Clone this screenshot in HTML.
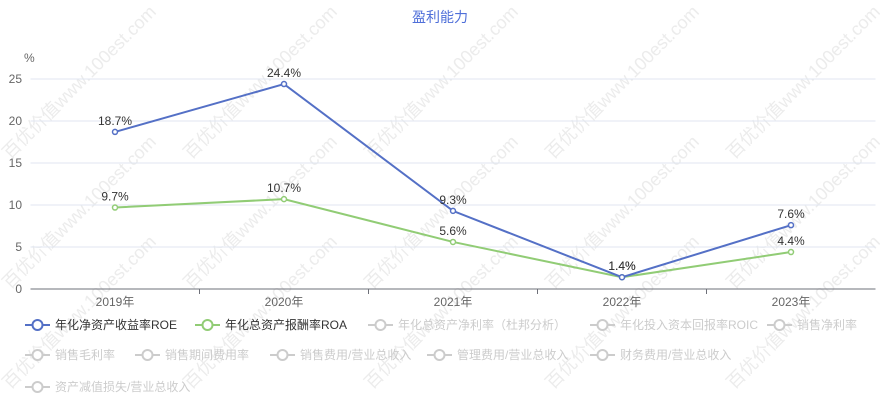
<!DOCTYPE html>
<html><head><meta charset="utf-8"><style>
html,body{margin:0;background:#fff;width:880px;height:400px;overflow:hidden;font-family:"Liberation Sans","Noto Sans CJK SC",sans-serif}
svg{display:block;overflow:hidden}
svg text{font-family:"Liberation Sans","Noto Sans CJK SC",sans-serif}
</style></head><body>
<svg id="c" width="880" height="400" xmlns="http://www.w3.org/2000/svg">
<g id="wm"></g>
<text x="440" y="22" text-anchor="middle" font-size="14" fill="#4f6fd9">盈利能力</text>
<text x="24" y="62" font-size="12" fill="#666">%</text>
<g id="grid"></g><g id="series"></g><g id="legend"></g>
</svg>
<script>
const categories=["2019年","2020年","2021年","2022年","2023年"];
const roe=[18.7,24.4,9.3,1.4,7.6];
const roa=[9.7,10.7,5.6,1.4,4.4];
const yTicks=[0,5,10,15,20,25];
const NS="http://www.w3.org/2000/svg";
const x0=30.5,x1=875.5,yBase=289,yTop=79,yMax=25;
const xs=i=>x0+(x1-x0)/categories.length*(i+0.5);
const ys=v=>yBase-(yBase-yTop)*v/yMax;
function mk(t,a,p){const e=document.createElementNS(NS,t);for(const k in a)e.setAttribute(k,a[k]);p.appendChild(e);return e;}
const svg=document.getElementById('c'),grid=document.getElementById('grid'),ser=document.getElementById('series'),leg=document.getElementById('legend'),wm=document.getElementById('wm');
[160,290,390].forEach(wy=>{for(let c=0;c<5;c++){const wx=c*181+10;const t=mk('text',{x:wx,y:wy,'font-size':'18',fill:'#ececec',transform:`rotate(-45 ${wx} ${wy})`},wm);t.textContent='百优价值www.100est.com';

}});
yTicks.forEach(v=>{const y=ys(v);
const l=mk('line',{x1:x0,x2:x1,y1:y,y2:y,stroke:v===0?'#6e7079':'#e0e6f1'},grid);


const t=mk('text',{x:22,y:y+4,'text-anchor':'end','font-size':'12',fill:'#666'},grid);t.textContent=v;

});
categories.forEach((c,i)=>{const x=x0+(x1-x0)/categories.length*i;
if(i>0){const tk=mk('line',{x1:x,x2:x,y1:yBase,y2:yBase+5,stroke:'#6e7079'},grid);

}
const t=mk('text',{x:xs(i),y:yBase+17,'text-anchor':'middle','font-size':'12',fill:'#666'},grid);t.textContent=c;

});
function draw(data,color,name){
const p=mk('polyline',{points:data.map((v,i)=>xs(i)+','+ys(v)).join(' '),fill:'none',stroke:color,'stroke-width':'2'},ser);


data.forEach((v,i)=>{const c=mk('circle',{cx:xs(i),cy:ys(v),r:2.5,fill:'#fff',stroke:color,'stroke-width':'1.5'},ser);


const t=mk('text',{x:xs(i),y:ys(v)-7,'text-anchor':'middle','font-size':'12',fill:'#333'},ser);t.textContent=v.toFixed(1)+'%';

});}
draw(roa,'#91cc75','roa');draw(roe,'#5470c6','roe');
const items=[["年化净资产收益率ROE",25,325,'#5470c6','#333'],["年化总资产报酬率ROA",195,325,'#91cc75','#333'],["年化总资产净利率（杜邦分析）",368,325,'#ccc','#ccc'],["年化投入资本回报率ROIC",590,325,'#ccc','#ccc'],["销售净利率",767,325,'#ccc','#ccc'],
["销售毛利率",25,355,'#ccc','#ccc'],["销售期间费用率",135,355,'#ccc','#ccc'],["销售费用/营业总收入",270,355,'#ccc','#ccc'],["管理费用/营业总收入",427,355,'#ccc','#ccc'],["财务费用/营业总收入",590,355,'#ccc','#ccc'],["资产减值损失/营业总收入",25,387,'#ccc','#ccc']];
items.forEach(([n,x,y,c,tc])=>{const g=mk('g',{},leg);


mk('line',{x1:x,x2:x+25,y1:y,y2:y,stroke:c,'stroke-width':'2'},g);
mk('circle',{cx:x+12.5,cy:y,r:5,fill:'#fff',stroke:c,'stroke-width':'2'},g);
const t=mk('text',{x:x+30,y:y+4,'font-size':'12',fill:tc},g);t.textContent=n;});
</script>
</body></html>
